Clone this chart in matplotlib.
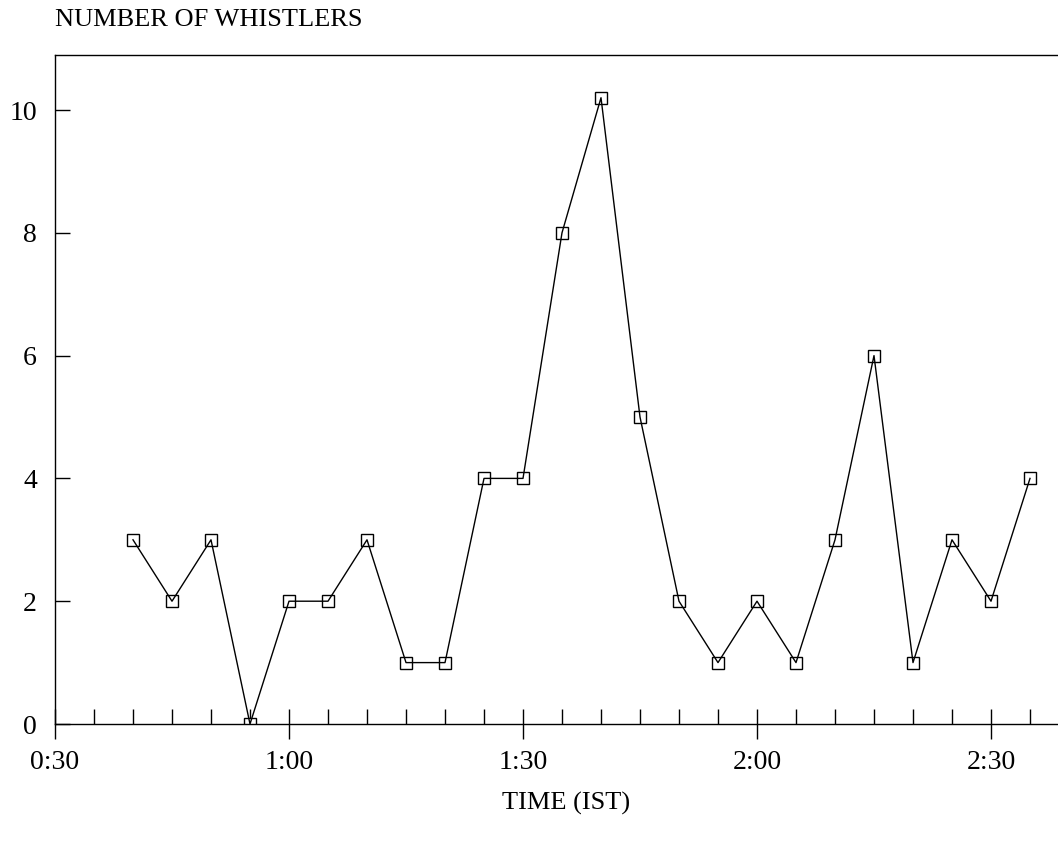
import matplotlib
matplotlib.use("Agg")
from matplotlib import pyplot as plt
from matplotlib.ticker import MultipleLocator, FuncFormatter

# time in minutes after midnight (IST), counts of whistlers
minutes = [40, 45, 50, 55, 60, 65, 70, 75, 80, 85, 90, 95, 100, 105,
           110, 115, 120, 125, 130, 135, 140, 145, 150, 155]
whistlers = [3, 2, 3, 0, 2, 2, 3, 1, 1, 4, 4, 8, 10.2, 5,
             2, 1, 2, 1, 3, 6, 1, 3, 2, 4]

plt.rcParams['font.family'] = ['Liberation Serif', 'DejaVu Serif']
plt.rcParams['font.size'] = 19

fig = plt.figure(figsize=(10.58, 8.44), dpi=100)
ax = fig.add_axes([55 / 1058, 1 - 724 / 844, 1 - 55 / 1058, (724 - 55) / 844])

ax.plot(minutes, whistlers, color='black', linewidth=1, zorder=3)
ax.plot(minutes, whistlers, linestyle='none', marker='s', markersize=8.5,
        markerfacecolor='white', markeredgecolor='black', markeredgewidth=1, zorder=2)

ax.set_xlim(30, 30 + (1058 - 55) / 7.8)
ax.set_ylim(0, (724 - 55) / 61.4)

ax.spines['right'].set_visible(False)
for side in ['left', 'bottom', 'top']:
    ax.spines[side].set_linewidth(1)
    ax.spines[side].set_color('black')

ax.xaxis.set_major_locator(MultipleLocator(30))
ax.xaxis.set_minor_locator(MultipleLocator(5))
ax.xaxis.set_major_formatter(FuncFormatter(lambda v, p: f"{int(v) // 60}:{int(v) % 60:02d}"))
ax.tick_params(axis='x', which='major', direction='inout', length=22, width=1, pad=7.5)
ax.tick_params(axis='x', which='minor', direction='in', length=11, width=1)

ax.yaxis.set_major_locator(MultipleLocator(2))
ax.tick_params(axis='y', which='major', direction='in', length=11, width=1, pad=13)
ax.tick_params(labelsize=20)

fig.text(55 / 1058, 1 - 20 / 844, "NUMBER OF WHISTLERS", ha='left', va='center', fontsize=19)
fig.text(566 / 1058, 1 - 803 / 844, "TIME (IST)", ha='center', va='center', fontsize=19)

fig.savefig("out.png", dpi=100)
